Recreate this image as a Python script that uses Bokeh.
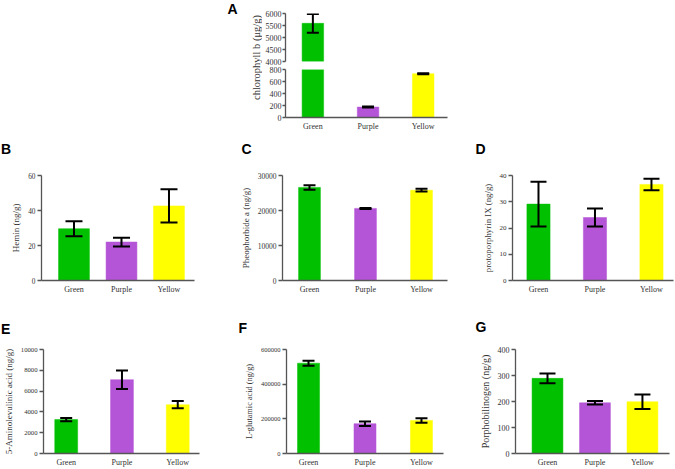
import math
from bokeh.plotting import figure
from bokeh.models import (ColumnDataSource, Range1d, FixedTicker, Whisker, TeeHead,
                          Label, Spacer, BasicTickFormatter)
from bokeh.layouts import row, column
from bokeh.embed import file_html
from bokeh.resources import INLINE

# ---------------- data ----------------
categories = ["Green", "Purple", "Yellow"]

chl_b_mean = [5590, 174, 729]
chl_b_err = [390, 8, 9]

hemin_mean = [29.6, 22.0, 42.6]
hemin_err = [4.3, 2.5, 9.5]

pheo_mean = [26600, 20600, 25800]
pheo_err = [650, 150, 400]

proto_mean = [29.1, 24.0, 36.6]
proto_err = [8.5, 3.4, 2.2]

ala_mean = [3260, 7100, 4690]
ala_err = [160, 890, 350]

glu_mean = [521000, 172000, 191000]
glu_err = [14500, 13000, 13000]

pbg_mean = [289, 195, 199]
pbg_err = [19, 7, 28]

ticks_A_top = [4000, 4500, 5000, 5500, 6000]
ticks_A_bot = [0, 200, 400, 600, 800]
ticks_B = [0, 20, 40, 60]
ticks_C = [0, 10000, 20000, 30000]
ticks_D = [0, 10, 20, 30, 40]
ticks_E = [0, 2000, 4000, 6000, 8000, 10000]
ticks_F = [0, 200000, 400000, 600000]
ticks_G = [0, 100, 200, 300, 400]

# ---------------- styles ----------------
BAR_COLORS = ["#00C000", "#B454D6", "#FFFF00"]
SERIF = "Liberation Serif"
SANS = "Liberation Sans"
AXIS_COLOR = "#555555"
TEXT_COLOR = "#333333"

xs = list(range(1, len(categories) + 1))
x_labels = {x: c for x, c in zip(xs, categories)}


def make_source(mean, err, rows=None):
    idx = rows if rows is not None else list(range(len(mean)))
    return ColumnDataSource(dict(
        x=[xs[i] for i in idx],
        value=[mean[i] for i in idx],
        upper=[mean[i] + err[i] for i in idx],
        lower=[mean[i] - err[i] for i in idx],
        color=[BAR_COLORS[i] for i in idx],
    ))


def make_fig(width, height, borders, x_range, y_range, y_ticks, ylabel=None,
             show_x=True, tick_fs="7px", label_fs="9px", cat_fs="8px",
             tick_out=4, tick_standoff=2):
    l, r, t, b = borders
    p = figure(width=width, height=height,
               x_range=Range1d(*x_range), y_range=Range1d(*y_range),
               output_backend="svg", toolbar_location=None,
               min_border_left=l, min_border_right=r,
               min_border_top=t, min_border_bottom=b,
               x_axis_location="below" if show_x else None)
    p.outline_line_color = None
    p.xgrid.visible = False
    p.ygrid.visible = False
    p.background_fill_color = "white"
    p.border_fill_color = "white"

    ya = p.yaxis[0]
    ya.ticker = FixedTicker(ticks=y_ticks, minor_ticks=[])
    ya.formatter = BasicTickFormatter(use_scientific=False)
    ya.major_label_text_font = SERIF
    ya.major_label_text_font_size = tick_fs
    ya.major_label_text_color = TEXT_COLOR
    ya.major_tick_out = tick_out
    ya.major_tick_in = 0
    ya.minor_tick_out = 0
    ya.minor_tick_in = 0
    ya.major_label_standoff = tick_standoff
    ya.axis_line_color = AXIS_COLOR
    ya.axis_line_width = 1.3
    ya.major_tick_line_color = AXIS_COLOR
    ya.major_tick_line_width = 1.3
    if ylabel:
        ya.axis_label = ylabel
        ya.axis_label_text_font = SERIF
        ya.axis_label_text_font_size = label_fs
        ya.axis_label_text_font_style = "normal"
        ya.axis_label_text_color = TEXT_COLOR
        ya.axis_label_standoff = 4

    if show_x:
        xa = p.xaxis[0]
        xa.ticker = FixedTicker(ticks=xs, minor_ticks=[])
        xa.major_label_overrides = x_labels
        xa.major_label_text_font = SERIF
        xa.major_label_text_font_size = cat_fs
        xa.major_label_text_color = TEXT_COLOR
        xa.major_tick_out = 0
        xa.major_tick_in = 0
        xa.minor_tick_out = 0
        xa.minor_tick_in = 0
        xa.major_label_standoff = 4
        xa.axis_line_color = AXIS_COLOR
        xa.axis_line_width = 1.3
    return p


def add_bars(p, mean, err, bar_w, cap, rows=None):
    src = make_source(mean, err, rows)
    p.vbar(x="x", top="value", bottom=0, width=bar_w, source=src,
           fill_color="color", line_color="color", line_width=0.5)
    w = Whisker(base="x", upper="upper", lower="lower", source=src,
                dimension="height", line_color="black", line_width=2,
                level="overlay",
                upper_head=TeeHead(size=cap, line_color="black", line_width=2),
                lower_head=TeeHead(size=cap, line_color="black", line_width=2))
    p.add_layout(w)


def blank_fig(width, height):
    f = figure(width=width, height=height, x_range=Range1d(0, 1), y_range=Range1d(0, 1),
               output_backend="svg", toolbar_location=None,
               min_border_left=0, min_border_right=0, min_border_top=0, min_border_bottom=0,
               x_axis_location=None, y_axis_location=None)
    f.outline_line_color = None
    f.xgrid.visible = False
    f.ygrid.visible = False
    return f


def add_letter(p, letter, sx, sy):
    p.add_layout(Label(x=sx, y=sy, x_units="screen", y_units="screen", text=letter,
                       text_font=SANS, text_font_style="bold", text_font_size="14px",
                       text_color="black", text_align="left", text_baseline="top"))


# ---------------- Panel A (broken axis) ----------------
top_rows = [i for i, v in enumerate(chl_b_mean) if v > ticks_A_bot[-1]]

pA_top = make_fig(193, 65, (20, 8, 13, 4), (0.504, 3.44),
                  (ticks_A_top[0], ticks_A_top[-1]), ticks_A_top, show_x=False,
                  tick_fs="8px", tick_out=3, tick_standoff=1)
add_bars(pA_top, chl_b_mean, chl_b_err, 0.39, 12, top_rows)

bot_rows = [i for i, v in enumerate(chl_b_mean) if v <= ticks_A_bot[-1]]
pA_bot = make_fig(193, 75, (20, 8, 4, 23), (0.504, 3.44),
                  (ticks_A_bot[0], ticks_A_bot[-1]), ticks_A_bot,
                  tick_fs="8px", tick_out=3, tick_standoff=1)
add_bars(pA_bot, chl_b_mean, chl_b_err, 0.39, 12, None)
# whiskers of the upper segment are only drawn in the upper panel
pA_bot.renderers = pA_bot.renderers
for ann in list(pA_bot.center):
    if isinstance(ann, Whisker):
        pA_bot.center.remove(ann)
wsrc = make_source(chl_b_mean, chl_b_err, bot_rows)
pA_bot.add_layout(Whisker(base="x", upper="upper", lower="lower", source=wsrc,
                          dimension="height", line_color="black", line_width=2,
                          level="overlay",
                          upper_head=TeeHead(size=12, line_color="black", line_width=2),
                          lower_head=TeeHead(size=12, line_color="black", line_width=2)))

labA = blank_fig(38, 140)
add_letter(labA, "A", 3, 140)
labA.add_layout(Label(x=32, y=83, x_units="screen", y_units="screen",
                      text="chlorophyll b (μg/g)", angle=math.pi / 2,
                      text_font=SERIF, text_font_size="10.5px", text_color=TEXT_COLOR,
                      text_align="center", text_baseline="middle"))

row1 = row(Spacer(width=224, height=140), labA, column(pA_top, pA_bot))

# ---------------- Row 2 ----------------
strip2 = blank_fig(675, 20)
add_letter(strip2, "B", 0.5, 20)
add_letter(strip2, "C", 241, 20)
add_letter(strip2, "D", 475, 20)

pB = make_fig(220, 140, (41, 26, 15, 20), (0.316, 3.537), (0, 60), ticks_B,
              "Hemin (ng/g)", tick_fs="7.3px", label_fs="9px")
add_bars(pB, hemin_mean, hemin_err, 0.65, 17)

pC = make_fig(228, 140, (62, 1, 15, 20), (0.518, 3.464), (0, 30000), ticks_C,
              "Pheophorbide a (ng/g)", tick_fs="7.5px", label_fs="9px")
add_bars(pC, pheo_mean, pheo_err, 0.39, 12)

pD = make_fig(227, 140, (64, 2, 15, 20), (0.54, 3.39), (0, 40), ticks_D,
              "protoporphyrin IX (ng/g)", tick_fs="7px", label_fs="8.8px")
add_bars(pD, proto_mean, proto_err, 0.41, 16)

row2 = column(strip2, row(pB, pC, pD))

# ---------------- Row 3 ----------------
strip3 = blank_fig(675, 36)
add_letter(strip3, "E", 0.5, 16)
add_letter(strip3, "F", 238, 17)
add_letter(strip3, "G", 475, 18)

pE = make_fig(220, 133, (41, 21, 13, 16), (0.593, 3.39), (0, 10000), ticks_E,
              "5-Aminolevulinic acid (ng/g)", tick_fs="6.7px", label_fs="9px")
add_bars(pE, ala_mean, ala_err, 0.41, 12)

pF = make_fig(228, 133, (66, 5, 13, 16), (0.61, 3.39), (0, 600000), ticks_F,
              "L-glutamic acid (ng/g)", tick_fs="6.5px", label_fs="8.3px")
add_bars(pF, glu_mean, glu_err, 0.39, 12)

pG = make_fig(227, 133, (67, 6, 13, 16), (0.326, 3.57), (0, 400), ticks_G,
              "Porphobilinogen (ng/g)", tick_fs="8px", label_fs="10px")
add_bars(pG, pbg_mean, pbg_err, 0.65, 16)

row3 = column(strip3, row(pE, pF, pG))

layout = column(row1, row2, row3)

open("out.html", "w").write(file_html(layout, INLINE))
